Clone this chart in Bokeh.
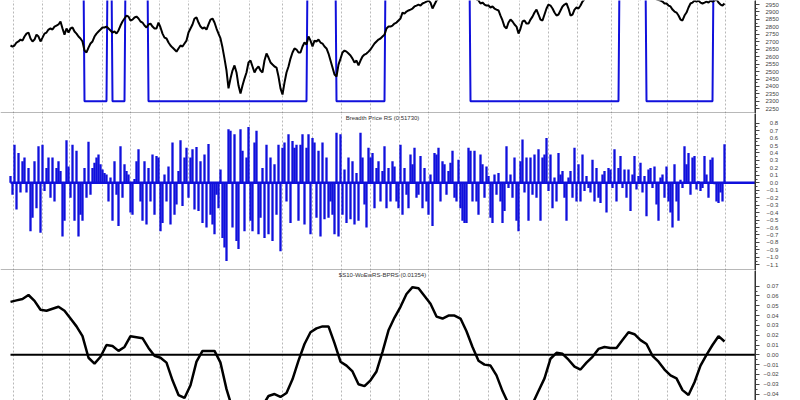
from bokeh.plotting import figure
from bokeh.layouts import column
from bokeh.models import FixedTicker, LinearAxis, Span, Label, Range1d
from bokeh.embed import file_html
from bokeh.resources import INLINE

# ---------------- data (one value per trading session) ----------------
price = [
    2675, 2668, 2675, 2695, 2702, 2715, 2708, 2735, 2755, 2762,
    2722, 2702, 2715, 2748, 2735, 2702, 2728, 2755, 2762, 2782,
    2789, 2782, 2802, 2809, 2816, 2836, 2789, 2748, 2789, 2762,
    2789, 2796, 2769, 2755, 2735, 2722, 2702, 2641, 2628, 2661,
    2688, 2702, 2735, 2755, 2769, 2782, 2796, 2796, 2802, 2789,
    2776, 2762, 2769, 2755, 2776, 2809, 2836, 2856, 2876, 2869,
    2843, 2849, 2863, 2869, 2856, 2836, 2829, 2809, 2796, 2816,
    2822, 2802, 2789, 2789, 2829, 2796, 2755, 2728, 2722, 2695,
    2675, 2661, 2648, 2634, 2655, 2675, 2668, 2688, 2708, 2762,
    2789, 2816, 2856, 2863, 2829, 2802, 2789, 2796, 2782, 2816,
    2849, 2856, 2829, 2789, 2755, 2722, 2661, 2587, 2507, 2387,
    2453, 2507, 2541, 2494, 2406, 2352, 2406, 2453, 2494, 2561,
    2574, 2534, 2494, 2520, 2534, 2507, 2494, 2574, 2621, 2594,
    2561, 2547, 2534, 2527, 2467, 2387, 2346, 2426, 2494, 2534,
    2587, 2628, 2655, 2648, 2628, 2628, 2668, 2695, 2682, 2735,
    2708, 2668, 2708, 2702, 2715, 2695, 2688, 2668, 2655, 2621,
    2574, 2527, 2480, 2467, 2547, 2587, 2628, 2641, 2634, 2621,
    2608, 2587, 2561, 2574, 2541, 2574, 2601, 2614, 2621, 2634,
    2648, 2668, 2688, 2702, 2715, 2722, 2735, 2748, 2789, 2802,
    2802, 2809, 2822, 2829, 2843, 2856, 2896, 2889, 2903, 2910,
    2916, 2923, 2937, 2943, 2950, 2943, 2957, 2963, 2970, 2977,
    2963, 2923, 2950, 2977, 2990, 2998, 3005, 3000, 3010, 3015,
    3008, 3020, 3025, 3018, 3030, 3035, 3028, 3020, 3025, 3015,
    3005, 3000, 2995, 2985, 2977, 2957, 2963, 2950, 2943, 2943,
    2930, 2937, 2923, 2916, 2910, 2876, 2843, 2802, 2789, 2829,
    2849, 2836, 2816, 2802, 2755, 2789, 2836, 2843, 2822, 2822,
    2849, 2869, 2896, 2916, 2883, 2849, 2843, 2883, 2923, 2950,
    2943, 2923, 2896, 2876, 2883, 2910, 2937, 2950, 2957, 2923,
    2876, 2883, 2916, 2930, 2923, 2943, 2970, 2985, 2995, 3005,
    3010, 3002, 3015, 3020, 3012, 3025, 3030, 3022, 3035, 3040,
    3030, 3025, 3035, 3045, 3040, 3030, 3020, 3010, 3000, 2995,
    3005, 3015, 3010, 3000, 2990, 2985, 2995, 3005, 3000, 2990,
    2995, 3000, 2992, 2985, 2980, 2977, 2970, 2957, 2957, 2943,
    2937, 2916, 2903, 2896, 2876, 2849, 2843, 2876, 2896, 2930,
    2957, 2963, 2977, 2970, 2977, 2963, 2957, 2963, 2970, 2963,
    2977, 2970, 2977, 2984, 2963, 2950, 2943, 2957,
]

# signal line: low level inside these session spans, high (off chart) outside
signal_low_starts = [37, 51, 69, 163, 230, 318]
signal_low_ends = [48, 57, 148, 187, 304, 351]
signal_low_level = 2300
signal_high_level = 4000

rs_bars = [
    0.09, -0.16, 0.51, -0.36, 0.40, -0.13, 0.29, 0.34, -0.13, 0.20,
    -0.65, -0.47, 0.29, -0.34, 0.49, -0.67, 0.51, -0.11, 0.20, 0.34,
    -0.20, 0.34, -0.25, 0.20, 0.29, 0.16, -0.72, -0.51, 0.57, 0.22,
    -0.20, 0.51, -0.51, 0.43, -0.72, -0.43, -0.51, 0.20, -0.20, 0.55,
    -0.16, 0.20, 0.27, 0.34, 0.38, 0.25, 0.18, 0.13, 0.11, -0.25,
    0.07, -0.51, 0.29, -0.16, -0.58, 0.49, -0.20, 0.25, 0.16, 0.11,
    -0.40, -0.43, 0.05, 0.29, 0.45, -0.25, -0.51, 0.29, -0.56, 0.20,
    -0.25, 0.38, -0.43, 0.36, 0.34, -0.65, -0.54, 0.11, -0.25, 0.22,
    -0.56, 0.54, -0.43, -0.29, 0.16, 0.57, -0.31, 0.34, 0.47, -0.20,
    0.34, 0.45, -0.36, 0.48, -0.38, 0.29, -0.54, 0.38, -0.60, 0.52,
    -0.43, -0.56, -0.69, -0.16, -0.34, 0.18, -0.74, -0.87, -1.05, 0.72,
    0.70, -0.60, 0.65, -0.78, -0.89, 0.72, 0.43, -0.65, 0.34, 0.75,
    -0.51, -0.65, 0.54, 0.70, -0.69, -0.47, 0.20, -0.74, 0.51, -0.69,
    0.34, -0.78, 0.25, -0.43, 0.51, -0.92, 0.47, 0.54, -0.25, 0.65,
    -0.54, 0.56, 0.47, 0.51, -0.51, 0.51, 0.65, -0.56, 0.47, 0.65,
    -0.69, 0.60, 0.54, -0.47, 0.43, -0.72, 0.54, -0.49, 0.34, -0.47,
    -0.25, -0.43, -0.69, 0.67, -0.72, 0.65, -0.43, 0.18, -0.54, 0.34,
    -0.49, 0.29, -0.56, 0.13, -0.51, 0.67, 0.34, -0.29, -0.60, 0.47,
    0.34, 0.40, -0.34, 0.20, 0.29, -0.25, 0.16, 0.49, -0.34, 0.20,
    -0.25, 0.29, 0.22, -0.25, -0.34, 0.51, -0.43, 0.20, -0.16, -0.34,
    0.38, 0.25, 0.47, -0.20, -0.16, 0.36, -0.34, 0.20, -0.25, -0.43,
    0.11, -0.58, 0.40, 0.38, 0.47, -0.25, 0.29, 0.25, -0.16, 0.16,
    0.27, 0.43, -0.20, -0.25, 0.31, -0.34, -0.51, -0.54, -0.54, 0.47,
    0.43, -0.25, 0.43, -0.25, -0.43, 0.38, 0.25, -0.20, 0.22, 0.09,
    -0.47, -0.54, 0.11, -0.16, 0.13, -0.25, -0.54, -0.38, 0.49, -0.07,
    0.11, -0.20, 0.34, -0.51, -0.65, 0.29, 0.58, -0.13, 0.34, -0.51,
    0.34, -0.16, 0.38, -0.20, 0.45, -0.51, 0.34, 0.38, 0.60, -0.11,
    0.38, -0.34, 0.07, -0.25, 0.40, 0.11, 0.16, -0.20, -0.51, 0.07,
    0.16, -0.20, 0.47, -0.25, 0.25, -0.25, 0.38, -0.11, 0.09, -0.07,
    -0.13, 0.31, -0.25, 0.20, -0.20, -0.27, 0.11, 0.16, -0.40, 0.20,
    0.18, -0.07, 0.45, -0.25, 0.20, 0.36, -0.07, 0.18, -0.20, 0.18,
    -0.38, 0.11, 0.36, -0.09, 0.09, 0.27, -0.13, 0.09, -0.45, 0.18,
    0.20, -0.07, 0.22, -0.29, -0.51, 0.07, 0.11, -0.20, 0.22, -0.25,
    -0.40, -0.60, 0.25, -0.25, -0.51, 0.04, -0.07, 0.49, 0.25, 0.40,
    -0.16, 0.34, 0.36, -0.09, 0.02, -0.11, -0.07, 0.36, 0.11, -0.20,
    0.31, 0.34, -0.02, -0.25, -0.27, -0.13, -0.25, 0.5173,
]
rs_title = "Breadth Price RS (0.51730)"

# smoothed oscillator, one reading every 3 sessions
bprs_every = 3
bprs = [
    0.054, 0.0555, 0.057, 0.061, 0.055, 0.046, 0.045, 0.047, 0.049, 0.045,
    0.037, 0.029, 0.019, -0.003, -0.009, -0.002, 0.010, 0.009, 0.004, 0.008,
    0.019, 0.018, 0.017, 0.007, -0.001, -0.003, -0.008, -0.026, -0.041, -0.044,
    -0.031, -0.007, 0.004, 0.004, 0.004, -0.008, -0.035, -0.055, -0.062, -0.066,
    -0.064, -0.058, -0.052, -0.042, -0.040, -0.043, -0.039, -0.025, -0.006, 0.011,
    0.023, 0.027, 0.029, 0.029, 0.012, -0.007, -0.011, -0.017, -0.030, -0.032,
    -0.026, -0.017, 0.003, 0.025, 0.038, 0.049, 0.062, 0.069, 0.068, 0.060,
    0.052, 0.039, 0.037, 0.040, 0.040, 0.037, 0.024, 0.008, -0.006, -0.010,
    -0.011, -0.021, -0.037, -0.050, -0.058, -0.060, -0.057, -0.050, -0.037, -0.024,
    -0.004, 0.002, 0.001, -0.005, -0.012, -0.015, -0.008, -0.002, 0.006, 0.008,
    0.007, 0.007, 0.015, 0.023, 0.021, 0.015, 0.011, -0.001, -0.007, -0.015,
    -0.021, -0.024, -0.036, -0.041, -0.028, -0.011, 0.000, 0.010, 0.019, 0.01354,
]
bprs_title = "$S10-WoEwRS-BPRS (0.01354)"

# month boundaries (in sessions) for the dashed vertical grid
month_lines = [1.5, 16, 29.5, 46, 60, 74.5, 89, 104.5, 119.5, 136, 151, 165.5, 180,
               194.5, 209, 224.5, 239, 254.5, 269, 283.5, 300.5, 314, 328.5, 343.5, 357.5]

price_ticks = ["2950", "2900", "2850", "2800", "2750", "2700", "2650", "2600",
               "2550", "2500", "2450", "2400", "2350", "2300", "2250"]
rs_ticks = ["0.8", "0.7", "0.6", "0.5", "0.4", "0.3", "0.2", "0.1", "0.0", "-0.1",
            "-0.2", "-0.3", "-0.4", "-0.5", "-0.6", "-0.7", "-0.8", "-0.9", "-1.0", "-1.1"]
bprs_ticks = ["0.07", "0.06", "0.05", "0.04", "0.03", "0.02", "0.01", "0.00",
              "-0.01", "-0.02", "-0.03", "-0.04"]

# ---------------- derived ----------------
sessions = list(range(len(price)))
signal = []
for i in sessions:
    low = any(s <= i <= e for s, e in zip(signal_low_starts, signal_low_ends))
    signal.append(signal_low_level if low else signal_high_level)
bar_sessions = list(range(len(rs_bars)))
bprs_sessions = [k * bprs_every for k in range(len(bprs))]

BLUE = "#1010dc"
FONT = "Liberation Sans"
W = 800
FRAME_W = 755
X_START, X_END = -5, 372.5
xr = Range1d(X_START, X_END)


def label_text(t, pad):
    s = t.replace("-", "\u2212")
    if pad and not t.startswith("-"):
        s = "\u2007" + s
    return s


def panel(h, y0, y1, tick_text, standoff, pad, separator):
    p = figure(width=W, height=h, x_range=xr, y_range=Range1d(y0, y1),
               output_backend="svg", toolbar_location=None,
               x_axis_location=None, y_axis_location=None,
               min_border_left=0, min_border_right=W - FRAME_W,
               min_border_top=0, min_border_bottom=0,
               outline_line_color=None, background_fill_color="white",
               border_fill_color="white")
    p.xgrid.ticker = FixedTicker(ticks=month_lines)
    p.xgrid.grid_line_color = "#b8b8b8"
    p.xgrid.grid_line_dash = "2 2"
    p.xgrid.grid_line_width = 1
    p.ygrid.visible = False
    vals = [float(t) for t in tick_text]
    minors = [(a + b) / 2 for a, b in zip(vals[:-1], vals[1:])]
    ax = LinearAxis(ticker=FixedTicker(ticks=vals, minor_ticks=minors),
                    major_label_overrides={v: label_text(t, pad) for v, t in zip(vals, tick_text)},
                    axis_line_color="#333333", axis_line_width=1,
                    major_tick_line_color="#444444", minor_tick_line_color="#444444",
                    major_tick_in=0, major_tick_out=4, minor_tick_in=0, minor_tick_out=2,
                    major_label_text_font=FONT, major_label_text_font_size="6px",
                    major_label_text_color="#444444", major_label_standoff=standoff)
    p.add_layout(ax, "right")
    # frame edge lines (right edge = axis line, bottom edge = panel separator)
    half_px_x = (X_END - X_START) * 0.5 / FRAME_W
    p.add_layout(Span(location=X_END - half_px_x, dimension="height",
                      line_color="#333333", line_width=1))
    if separator:
        half_px_y = (y1 - y0) * 0.5 / h
        p.add_layout(Span(location=y0 + half_px_y, dimension="width",
                          line_color="#707070", line_width=1))
    return p


# top panel: index with signal boxes
p1 = panel(113, 2218.5, 2977, price_ticks, 6, False, True)
p1.line(sessions, signal, line_color=BLUE, line_width=2)
p1.line(sessions, price, line_color="black", line_width=2)

# middle panel: breadth price RS bars
p2 = panel(157, -1.177, 0.930, rs_ticks, 7, True, True)
p2.vbar(x=bar_sessions, top=rs_bars, bottom=0, width=1.15, fill_color=BLUE, line_color=None)
p2.line([bar_sessions[0], X_END], [0, 0], line_color=BLUE, line_width=2.5)
p2.add_layout(Label(x=186, y=0.863, text=rs_title, text_font=FONT, text_font_size="6px",
                    text_color="#333333", text_align="center", text_baseline="middle"))

# bottom panel: oscillator
p3 = panel(130, -0.0466, 0.086, bprs_ticks, 4, True, False)
p3.line([bprs_sessions[0], X_END], [0, 0], line_color="black", line_width=2)
p3.line(bprs_sessions, bprs, line_color="black", line_width=2.5)
p3.add_layout(Label(x=186, y=0.081, text=bprs_title, text_font=FONT, text_font_size="6px",
                    text_color="#333333", text_align="center", text_baseline="middle"))

layout = column(p1, p2, p3, spacing=0)
open("out.html", "w").write(file_html(layout, INLINE))
